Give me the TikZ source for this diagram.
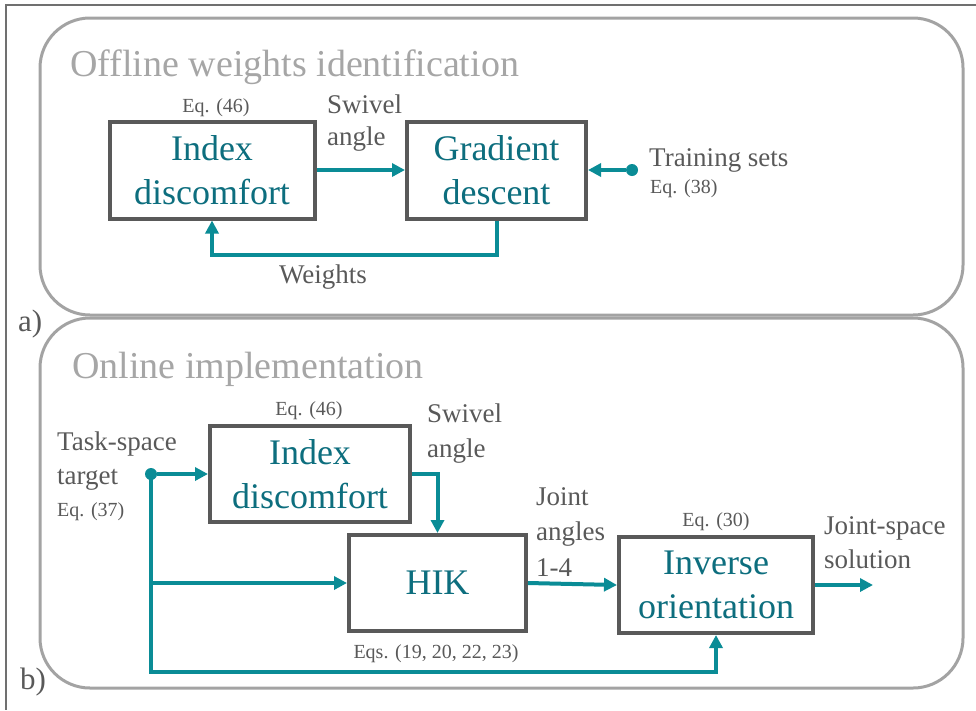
\documentclass[tikz,border=0pt]{standalone}
\usepackage{fontspec}
\setmainfont{Liberation Serif}
\usetikzlibrary{arrows.meta}
\definecolor{tealline}{HTML}{0A8C96}
\definecolor{tealtxt}{HTML}{0D6E7E}
\definecolor{boxgray}{HTML}{595959}
\definecolor{labgray}{HTML}{595959}
\definecolor{titlegray}{HTML}{A6A6A6}
\definecolor{panelgray}{HTML}{A3A3A3}
\definecolor{framegray}{HTML}{707070}
\tikzset{
  blk/.style={draw=boxgray, line width=4pt, fill=white, inner sep=0pt, align=center,
    text=tealtxt, font=\fontsize{36}{44}\selectfont},
  lab/.style={text=labgray, inner sep=0pt, font=\fontsize{27}{33}\selectfont},
  eqlab/.style={text=labgray, inner sep=0pt, font=\fontsize{20}{24}\selectfont},
  ttl/.style={text=titlegray, inner sep=0pt, font=\fontsize{38}{44}\selectfont},
  conn/.style={draw=tealline, line width=4pt, -{Triangle[length=13pt,width=13pt]}},
  plain/.style={draw=tealline, line width=4pt},
  dotnode/.style={circle, fill=tealline, inner sep=0pt, minimum size=12pt},
  panel/.style={draw=panelgray, line width=3pt, rounded corners=50pt},
}
\begin{document}
\begin{tikzpicture}[x=1pt, y=-1pt]
\useasboundingbox (0,0) rectangle (976,710);
% outer frame lines
\draw[framegray, line width=1.5pt] (5,5) -- (976,5);
\draw[framegray, line width=1.5pt] (6,5) -- (6,710);
% panels
\draw[panel] (40,18) rectangle (963,315);
\draw[panel] (40,318) rectangle (963,688);
\node[lab, anchor=base west, font=\fontsize{31}{36}\selectfont] (la) at (18,331) {a)};
\node[lab, anchor=base west, font=\fontsize{31}{36}\selectfont] (lb) at (20,689) {b)};

% ---------- a) ----------
\node[ttl, anchor=base west] (t1) at (70,76) {Offline weights identification};
\node[blk, minimum width=205pt, minimum height=97pt] (idx) at (212,170) {Index\\discomfort};
\node[blk, minimum width=179pt, minimum height=97pt] (grad) at (496.5,170) {Gradient\\descent};
\node[eqlab, anchor=base] (e46a) at (216,112) {Eq. (46)};
\node[lab, anchor=base west] (sw1) at (327,113) {Swivel};
\node[lab, anchor=base west] (sw2) at (327,145) {angle};
\node[dotnode] (ts) at (632,170) {};
\node[lab, anchor=base west] (tr) at (649,166) {Training sets};
\node[eqlab, anchor=base west] (e38) at (650,193) {Eq. (38)};
\node[lab, anchor=base] (wt) at (323,283) {Weights};
\coordinate (wy) at (0,255);
\draw[conn] (idx) -- (grad);
\draw[conn] (ts) -- (grad);
\draw[conn] (grad.south) -- (grad.south |- wy) -- (idx.south |- wy) -- (idx.south);

% ---------- b) ----------
\node[ttl, anchor=base west] (t2) at (72,378) {Online implementation};
\node[blk, minimum width=200pt, minimum height=96pt] (idx2) at (310,474) {Index\\discomfort};
\node[blk, minimum width=177pt, minimum height=96pt] (hik) at (437.5,583) {HIK};
\node[blk, minimum width=194pt, minimum height=96pt] (inv) at (716,585) {Inverse\\orientation};
\node[eqlab, anchor=base] (e46b) at (309,415) {Eq. (46)};
\node[eqlab, anchor=base] (e30) at (716,526) {Eq. (30)};
\node[eqlab, anchor=base] (e19) at (436,658) {Eqs. (19, 20, 22, 23)};
\node[lab, anchor=base west] (ts1) at (57,450) {Task-space};
\node[lab, anchor=base west] (ts2) at (57,484) {target};
\node[eqlab, anchor=base west] (e37) at (57,516) {Eq. (37)};
\node[lab, anchor=base west] (sv1) at (427,422) {Swivel};
\node[lab, anchor=base west] (sv2) at (427,457) {angle};
\node[lab, anchor=base west] (ja1) at (536,505) {Joint};
\node[lab, anchor=base west] (ja2) at (536,540) {angles};
\node[lab, anchor=base west] (ja3) at (536,576) {1-4};
\node[lab, anchor=base west] (js1) at (824,534) {Joint-space};
\node[lab, anchor=base west] (js2) at (824,568) {solution};
\node[dotnode] (tt) at (151,474) {};
\coordinate (by) at (0,672);
\coordinate (out) at (873,585);
\draw[conn] (tt) -- (idx2.west |- tt);
\draw[conn] (tt.center) -- (tt.center |- by) -- (inv.south |- by) -- (inv.south);
\draw[conn] (tt.center |- hik) -- (hik.west);
\draw[conn] (idx2.east) -| (hik.north);
\draw[conn] (hik.east) -- (inv.west);
\draw[conn] (inv.east) -- (out);
\end{tikzpicture}
\end{document}
